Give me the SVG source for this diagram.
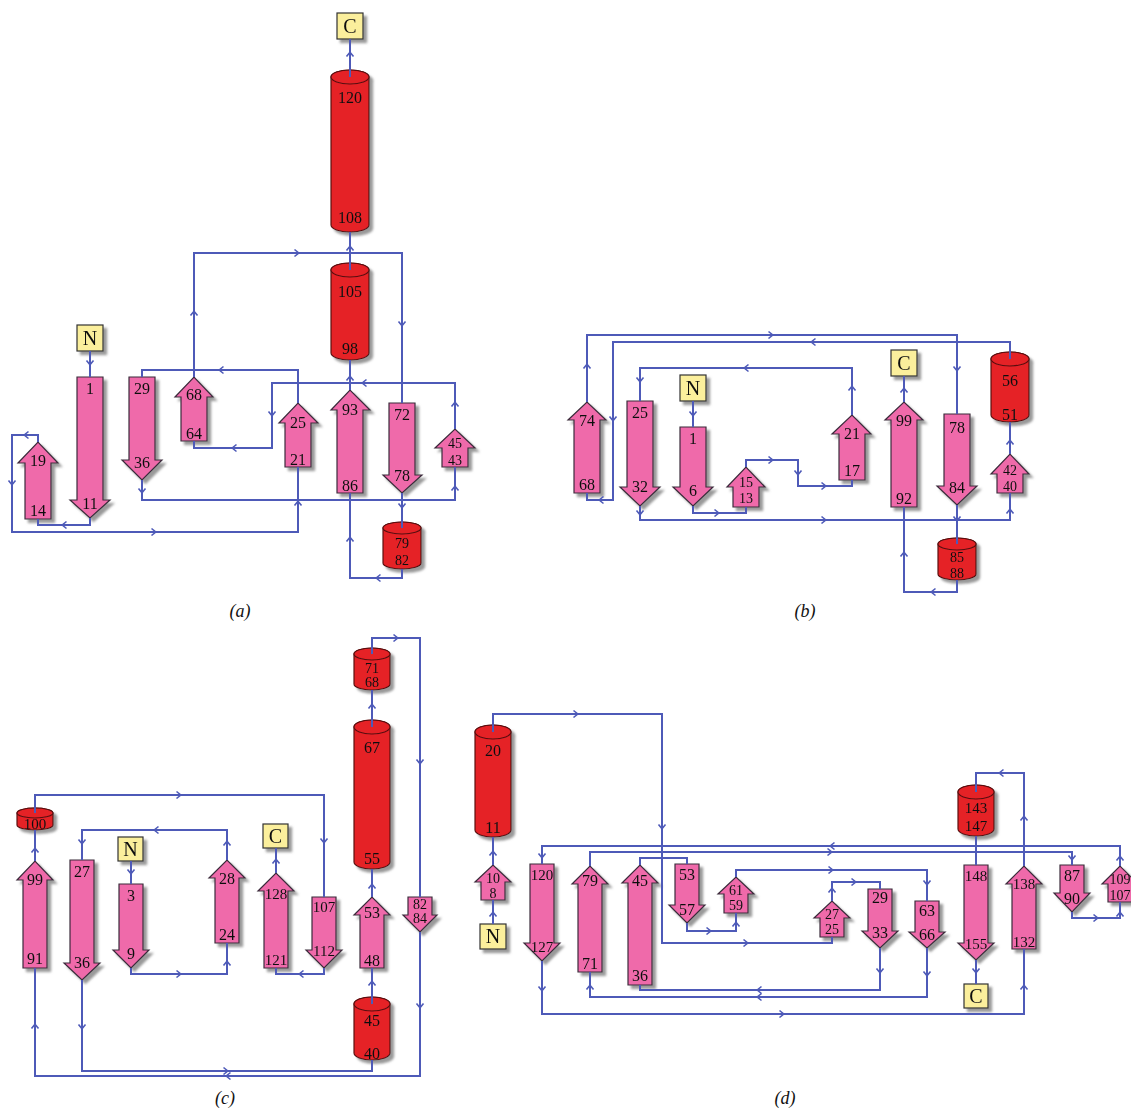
<svg xmlns="http://www.w3.org/2000/svg" width="1131" height="1109" viewBox="0 0 1131 1109">
<defs>
<filter id="sh" x="-20%" y="-20%" width="150%" height="150%"><feDropShadow dx="3.5" dy="3.5" stdDeviation="1.2" flood-color="#777" flood-opacity="0.75"/></filter>
<path id="ah" d="M-3.5,-3.5 L0.8,0 L-3.5,3.5" fill="none" stroke="#4E5AB8" stroke-width="1.6"/>
<style>
.st{fill:#EF6AAA;stroke:#3b2b3b;stroke-width:1.2}
.cy path,.cy ellipse{fill:#E52128;stroke:#5a1010;stroke-width:1.2}
.bx{fill:#FBEF9C;stroke:#333;stroke-width:1.2}
.sh{filter:url(#sh)}
.ln{fill:none;stroke:#4E5AB8;stroke-width:2}
text{font-family:"Liberation Serif","Times New Roman",serif;font-size:16px;text-anchor:middle;fill:#111}
.s{font-size:15px}
.x{font-size:14px}
.b{font-size:20px}
.cap{font-style:italic;font-size:18px}
</style>
</defs>
<rect width="1131" height="1109" fill="#fff"/>

<!-- ================= PANEL A ================= -->
<g id="a-N" class="sh"><rect class="bx" x="77" y="325" width="26" height="26"/><text class="b" x="90" y="345">N</text></g>
<g id="a-C" class="sh"><rect class="bx" x="337" y="13" width="26" height="26"/><text class="b" x="350" y="33">C</text></g>
<g id="a-s1" class="sh"><polygon class="st" points="77,377 103,377 103,500 110,500 90,518 70,500 77,500"/><text x="90" y="394">1</text><text x="90" y="509">11</text></g>
<g id="a-s19" class="sh"><polygon class="st" points="25,519 25,463 18,463 38,442 58,463 51,463 51,519"/><text x="38" y="466">19</text><text x="38" y="516">14</text></g>
<g id="a-s29" class="sh"><polygon class="st" points="129,377 155,377 155,460 162,460 142,480 122,460 129,460"/><text x="142" y="394">29</text><text x="142" y="468">36</text></g>
<g id="a-s68" class="sh"><polygon class="st" points="181,441 181,397 175,397 194,377 213,397 207,397 207,441"/><text x="194" y="400">68</text><text x="194" y="439">64</text></g>
<g id="a-s25" class="sh"><polygon class="st" points="285,467 285,423 279,423 298,403 318,423 311,423 311,467"/><text x="298" y="428">25</text><text x="298" y="465">21</text></g>
<g id="a-s93" class="sh"><polygon class="st" points="337,493 337,410 331,410 350,390 370,410 363,410 363,493"/><text x="350" y="415">93</text><text x="350" y="491">86</text></g>
<g id="a-s72" class="sh"><polygon class="st" points="389,403 415,403 415,475 422,475 402,493 383,475 389,475"/><text x="402" y="420">72</text><text x="402" y="481">78</text></g>
<g id="a-s45" class="sh"><polygon class="st" points="442,467 442,448 435,448 455,429 475,448 468,448 468,467"/><text class="x" x="455" y="448">45</text><text class="x" x="455" y="465">43</text></g>
<g id="a-h120" class="cy sh"><path d="M331,77 V225 A19,7 0 0 0 369,225 V77 A19,7 0 0 0 331,77 Z"/><ellipse cx="350" cy="77" rx="19" ry="7"/><text x="350" y="103">120</text><text x="350" y="223">108</text></g>
<g id="a-h105" class="cy sh"><path d="M331,270 V353 A19,7 0 0 0 369,353 V270 A19,7 0 0 0 331,270 Z"/><ellipse cx="350" cy="270" rx="19" ry="7"/><text x="350" y="297">105</text><text x="350" y="354">98</text></g>
<g id="a-h79" class="cy sh"><path d="M383,528 V563 A19,6 0 0 0 421,563 V528 A19,6 0 0 0 383,528 Z"/><ellipse cx="402" cy="528" rx="19" ry="6"/><text class="x" x="402" y="548">79</text><text class="x" x="402" y="565">82</text></g>
<text class="cap" x="240" y="617">(a)</text>

<!-- ================= PANEL B ================= -->
<g id="b-N" class="sh"><rect class="bx" x="680" y="375" width="26" height="26"/><text class="b" x="693" y="395">N</text></g>
<g id="b-C" class="sh"><rect class="bx" x="891" y="350" width="26" height="26"/><text class="b" x="904" y="370">C</text></g>
<g id="b-s74" class="sh"><polygon class="st" points="574,493 574,420 568,420 587,402 606,420 600,420 600,493"/><text x="587" y="426">74</text><text x="587" y="490">68</text></g>
<g id="b-s25" class="sh"><polygon class="st" points="627,401 653,401 653,487 660,487 640,506 620,487 627,487"/><text x="640" y="418">25</text><text x="640" y="492">32</text></g>
<g id="b-s1" class="sh"><polygon class="st" points="680,427 706,427 706,487 713,487 693,506 673,487 680,487"/><text x="693" y="444">1</text><text x="693" y="496">6</text></g>
<g id="b-s15" class="sh"><polygon class="st" points="733,507 733,487 727,487 746,467 765,487 759,487 759,507"/><text class="x" x="746" y="487">15</text><text class="x" x="746" y="503">13</text></g>
<g id="b-s21" class="sh"><polygon class="st" points="839,480 839,434 832,434 852,415 871,434 865,434 865,480"/><text x="852" y="439">21</text><text x="852" y="476">17</text></g>
<g id="b-s99" class="sh"><polygon class="st" points="891,507 891,420 885,420 904,402 923,420 917,420 917,507"/><text x="904" y="426">99</text><text x="904" y="504">92</text></g>
<g id="b-s78" class="sh"><polygon class="st" points="944,414 970,414 970,486 977,486 957,505 937,486 944,486"/><text x="957" y="433">78</text><text x="957" y="493">84</text></g>
<g id="b-s42" class="sh"><polygon class="st" points="997,493 997,474 991,474 1010,454 1029,474 1023,474 1023,493"/><text class="x" x="1010" y="475">42</text><text class="x" x="1010" y="491">40</text></g>
<g id="b-h56" class="cy sh"><path d="M991,359 V415 A19,7 0 0 0 1029,415 V359 A19,7 0 0 0 991,359 Z"/><ellipse cx="1010" cy="359" rx="19" ry="7"/><text x="1010" y="386">56</text><text x="1010" y="420">51</text></g>
<g id="b-h85" class="cy sh"><path d="M938,544 V574 A19,6 0 0 0 976,574 V544 A19,6 0 0 0 938,544 Z"/><ellipse cx="957" cy="544" rx="19" ry="6"/><text class="x" x="957" y="562">85</text><text class="x" x="957" y="578">88</text></g>
<text class="cap" x="805" y="617">(b)</text>

<!-- ================= PANEL C ================= -->
<g id="c-N" class="sh"><rect class="bx" x="118" y="837" width="25" height="24"/><text class="b" x="130.5" y="856">N</text></g>
<g id="c-C" class="sh"><rect class="bx" x="263" y="824" width="25" height="24"/><text class="b" x="275.5" y="843">C</text></g>
<g id="c-s99" class="sh"><polygon class="st" points="23,968 23,880 17,880 35,861 53,880 47,880 47,968"/><text x="35" y="885">99</text><text x="35" y="964">91</text></g>
<g id="c-s27" class="sh"><polygon class="st" points="70,860 94,860 94,963 100,963 82,980 64,963 70,963"/><text x="82" y="877">27</text><text x="82" y="968">36</text></g>
<g id="c-s3" class="sh"><polygon class="st" points="119,884 143,884 143,950 149,950 131,968 113,950 119,950"/><text x="131" y="901">3</text><text x="131" y="959">9</text></g>
<g id="c-s28" class="sh"><polygon class="st" points="215,943 215,878 209,878 227,860 245,878 239,878 239,943"/><text x="227" y="884">28</text><text x="227" y="940">24</text></g>
<g id="c-s128" class="sh"><polygon class="st" points="264,968 264,891 258,891 276,873 294,891 288,891 288,968"/><text class="s" x="276" y="899">128</text><text class="s" x="276" y="965">121</text></g>
<g id="c-s107" class="sh"><polygon class="st" points="312,897 336,897 336,950 342,950 324,968 306,950 312,950"/><text class="s" x="324" y="912">107</text><text class="s" x="324" y="956">112</text></g>
<g id="c-s53" class="sh"><polygon class="st" points="360,968 360,915 354,915 372,897 390,915 384,915 384,968"/><text x="372" y="918">53</text><text x="372" y="966">48</text></g>
<g id="c-s82" class="sh"><polygon class="st" points="408,897 432,897 432,915 437,915 420,932 403,915 408,915"/><text class="x" x="420" y="909">82</text><text class="x" x="420" y="923">84</text></g>
<g id="c-h100" class="cy sh"><path d="M17,813 V825 A18,5 0 0 0 53,825 V813 A18,5 0 0 0 17,813 Z"/><ellipse cx="35" cy="813" rx="18" ry="5"/><text class="s" x="35" y="829">100</text></g>
<g id="c-h71" class="cy sh"><path d="M354,654 V684 A18,6 0 0 0 390,684 V654 A18,6 0 0 0 354,654 Z"/><ellipse cx="372" cy="654" rx="18" ry="6"/><text class="x" x="372" y="673">71</text><text class="x" x="372" y="687">68</text></g>
<g id="c-h67" class="cy sh"><path d="M354,727 V862 A18,7 0 0 0 390,862 V727 A18,7 0 0 0 354,727 Z"/><ellipse cx="372" cy="727" rx="18" ry="7"/><text x="372" y="753">67</text><text x="372" y="864">55</text></g>
<g id="c-h45" class="cy sh"><path d="M354,1004 V1053 A18,7 0 0 0 390,1053 V1004 A18,7 0 0 0 354,1004 Z"/><ellipse cx="372" cy="1004" rx="18" ry="7"/><text x="372" y="1026">45</text><text x="372" y="1059">40</text></g>
<text class="cap" x="225" y="1104">(c)</text>

<!-- ================= PANEL D ================= -->
<g id="d-N" class="sh"><rect class="bx" x="480" y="924" width="26" height="25"/><text class="b" x="493" y="943">N</text></g>
<g id="d-C" class="sh"><rect class="bx" x="964" y="984" width="24" height="24"/><text class="b" x="976" y="1003">C</text></g>
<g id="d-s10" class="sh"><polygon class="st" points="481,900 481,882 475,882 493,865 511,882 505,882 505,900"/><text class="x" x="493" y="883">10</text><text class="x" x="493" y="898">8</text></g>
<g id="d-s120" class="sh"><polygon class="st" points="530,864 554,864 554,943 560,943 542,961 524,943 530,943"/><text class="s" x="542" y="880">120</text><text class="s" x="542" y="952">127</text></g>
<g id="d-s79" class="sh"><polygon class="st" points="578,972 578,884 572,884 590,866 608,884 602,884 602,972"/><text x="590" y="886">79</text><text x="590" y="969">71</text></g>
<g id="d-s45" class="sh"><polygon class="st" points="628,985 628,883 622,883 640,865 658,883 652,883 652,985"/><text x="640" y="886">45</text><text x="640" y="981">36</text></g>
<g id="d-s53" class="sh"><polygon class="st" points="675,864 699,864 699,905 705,905 687,923 669,905 675,905"/><text x="687" y="880">53</text><text x="687" y="915">57</text></g>
<g id="d-s61" class="sh"><polygon class="st" points="724,913 724,894 718,894 736,877 754,894 748,894 748,913"/><text class="x" x="736" y="895">61</text><text class="x" x="736" y="910">59</text></g>
<g id="d-s27" class="sh"><polygon class="st" points="820,937 820,918 814,918 832,901 850,918 844,918 844,937"/><text class="x" x="832" y="919">27</text><text class="x" x="832" y="934">25</text></g>
<g id="d-s29" class="sh"><polygon class="st" points="868,889 892,889 892,931 898,931 880,948 862,931 868,931"/><text x="880" y="903">29</text><text x="880" y="938">33</text></g>
<g id="d-s63" class="sh"><polygon class="st" points="915,901 939,901 939,932 945,932 927,948 909,932 915,932"/><text x="927" y="916">63</text><text x="927" y="940">66</text></g>
<g id="d-s148" class="sh"><polygon class="st" points="964,865 988,865 988,943 994,943 976,960 958,943 964,943"/><text class="s" x="976" y="881">148</text><text class="s" x="976" y="949">155</text></g>
<g id="d-s138" class="sh"><polygon class="st" points="1012,949 1012,884 1006,884 1024,866 1042,884 1036,884 1036,949"/><text class="s" x="1024" y="889">138</text><text class="s" x="1024" y="947">132</text></g>
<g id="d-s87" class="sh"><polygon class="st" points="1060,865 1084,865 1084,893 1090,893 1072,912 1054,893 1060,893"/><text x="1072" y="881">87</text><text x="1072" y="904">90</text></g>
<g id="d-s109" class="sh"><polygon class="st" points="1108,902 1108,884 1102,884 1120,866 1138,884 1132,884 1132,902"/><text class="x" x="1120" y="884">109</text><text class="x" x="1120" y="900">107</text></g>
<g id="d-h20" class="cy sh"><path d="M475,732 V830 A18,7 0 0 0 511,830 V732 A18,7 0 0 0 475,732 Z"/><ellipse cx="493" cy="732" rx="18" ry="7"/><text x="493" y="756">20</text><text x="493" y="833">11</text></g>
<g id="d-h143" class="cy sh"><path d="M958,792 V829 A18,7 0 0 0 994,829 V792 A18,7 0 0 0 958,792 Z"/><ellipse cx="976" cy="792" rx="18" ry="7"/><text class="s" x="976" y="813">143</text><text class="s" x="976" y="831">147</text></g>
<text class="cap" x="785" y="1104">(d)</text>

<!-- ================= CONNECTORS ================= -->
<g id="connectors">
<!-- panel a -->
<path class="ln" d="M90,351 V377"/>
<path class="ln" d="M90,518 V525 H38 V519"/>
<path class="ln" d="M38,442 V435 H12 V532 H298 V467"/>
<path class="ln" d="M298,403 V370 H142 V377"/>
<path class="ln" d="M142,480 V500 H455 V467"/>
<path class="ln" d="M455,429 V383 H272 V448 H194 V441"/>
<path class="ln" d="M194,377 V253 H402 V403"/>
<path class="ln" d="M402,493 V528"/>
<path class="ln" d="M402,569 V578 H350 V493"/>
<path class="ln" d="M350,390 V360"/>
<path class="ln" d="M350,270 V232"/>
<path class="ln" d="M350,77 V39"/>
<use href="#ah" transform="translate(90,364) rotate(90)"/>
<use href="#ah" transform="translate(63,525) rotate(180)"/>
<use href="#ah" transform="translate(25,435) rotate(180)"/>
<use href="#ah" transform="translate(12,484) rotate(90)"/>
<use href="#ah" transform="translate(155,532)"/>
<use href="#ah" transform="translate(298,502) rotate(-90)"/>
<use href="#ah" transform="translate(220,370) rotate(180)"/>
<use href="#ah" transform="translate(142,492) rotate(90)"/>
<use href="#ah" transform="translate(455,487) rotate(-90)"/>
<use href="#ah" transform="translate(455,403) rotate(-90)"/>
<use href="#ah" transform="translate(363,383) rotate(180)"/>
<use href="#ah" transform="translate(272,415) rotate(90)"/>
<use href="#ah" transform="translate(233,448) rotate(180)"/>
<use href="#ah" transform="translate(194,312) rotate(-90)"/>
<use href="#ah" transform="translate(298,253)"/>
<use href="#ah" transform="translate(402,325) rotate(90)"/>
<use href="#ah" transform="translate(402,507) rotate(90)"/>
<use href="#ah" transform="translate(377,578) rotate(180)"/>
<use href="#ah" transform="translate(350,538) rotate(-90)"/>
<use href="#ah" transform="translate(350,377) rotate(-90)"/>
<use href="#ah" transform="translate(350,247) rotate(-90)"/>
<use href="#ah" transform="translate(350,53) rotate(-90)"/>
<!-- panel b -->
<path class="ln" d="M693,401 V427"/>
<path class="ln" d="M693,506 V513 H746 V507"/>
<path class="ln" d="M746,467 V460 H798 V486 H852 V480"/>
<path class="ln" d="M852,415 V368 H640 V401"/>
<path class="ln" d="M640,506 V520 H1010 V493"/>
<path class="ln" d="M1010,454 V422"/>
<path class="ln" d="M1010,359 V342 H613 V500 H587 V493"/>
<path class="ln" d="M587,402 V335 H957 V414"/>
<path class="ln" d="M957,505 V544"/>
<path class="ln" d="M957,580 V592 H904 V507"/>
<path class="ln" d="M904,402 V376"/>
<use href="#ah" transform="translate(693,415) rotate(90)"/>
<use href="#ah" transform="translate(718,513)"/>
<use href="#ah" transform="translate(772,460)"/>
<use href="#ah" transform="translate(798,474) rotate(90)"/>
<use href="#ah" transform="translate(825,486)"/>
<use href="#ah" transform="translate(852,387) rotate(-90)"/>
<use href="#ah" transform="translate(745,368) rotate(180)"/>
<use href="#ah" transform="translate(640,381) rotate(90)"/>
<use href="#ah" transform="translate(640,514) rotate(90)"/>
<use href="#ah" transform="translate(825,520)"/>
<use href="#ah" transform="translate(1010,510) rotate(-90)"/>
<use href="#ah" transform="translate(1010,441) rotate(-90)"/>
<use href="#ah" transform="translate(812,342) rotate(180)"/>
<use href="#ah" transform="translate(613,420) rotate(90)"/>
<use href="#ah" transform="translate(600,500) rotate(180)"/>
<use href="#ah" transform="translate(587,365) rotate(-90)"/>
<use href="#ah" transform="translate(772,335)"/>
<use href="#ah" transform="translate(957,370) rotate(90)"/>
<use href="#ah" transform="translate(957,520) rotate(90)"/>
<use href="#ah" transform="translate(932,592) rotate(180)"/>
<use href="#ah" transform="translate(904,553) rotate(-90)"/>
<use href="#ah" transform="translate(904,389) rotate(-90)"/>
<!-- panel c -->
<path class="ln" d="M131,861 V884"/>
<path class="ln" d="M131,968 V974 H227 V943"/>
<path class="ln" d="M227,860 V830 H82 V860"/>
<path class="ln" d="M82,980 V1071 H372 V1060"/>
<path class="ln" d="M372,1004 V968"/>
<path class="ln" d="M372,897 V869"/>
<path class="ln" d="M372,727 V690"/>
<path class="ln" d="M372,654 V638 H420 V897"/>
<path class="ln" d="M420,932 V1076 H35 V968"/>
<path class="ln" d="M35,861 V830"/>
<path class="ln" d="M35,813 V795 H324 V897"/>
<path class="ln" d="M324,968 V974 H276 V968"/>
<path class="ln" d="M276,873 V848"/>
<use href="#ah" transform="translate(131,873) rotate(90)"/>
<use href="#ah" transform="translate(180,974)"/>
<use href="#ah" transform="translate(227,962) rotate(-90)"/>
<use href="#ah" transform="translate(227,842) rotate(-90)"/>
<use href="#ah" transform="translate(155,830) rotate(180)"/>
<use href="#ah" transform="translate(82,843) rotate(90)"/>
<use href="#ah" transform="translate(82,1028) rotate(90)"/>
<use href="#ah" transform="translate(227,1071)"/>
<use href="#ah" transform="translate(372,982) rotate(-90)"/>
<use href="#ah" transform="translate(372,885) rotate(-90)"/>
<use href="#ah" transform="translate(372,705) rotate(-90)"/>
<use href="#ah" transform="translate(397,638)"/>
<use href="#ah" transform="translate(420,763) rotate(90)"/>
<use href="#ah" transform="translate(420,1007) rotate(90)"/>
<use href="#ah" transform="translate(227,1076) rotate(180)"/>
<use href="#ah" transform="translate(35,1025) rotate(-90)"/>
<use href="#ah" transform="translate(35,849) rotate(-90)"/>
<use href="#ah" transform="translate(180,795)"/>
<use href="#ah" transform="translate(324,842) rotate(90)"/>
<use href="#ah" transform="translate(300,974) rotate(180)"/>
<use href="#ah" transform="translate(276,860) rotate(-90)"/>
<!-- panel d -->
<path class="ln" d="M493,924 V900"/>
<path class="ln" d="M493,865 V837"/>
<path class="ln" d="M493,732 V714 H662 V943 H832 V937"/>
<path class="ln" d="M832,901 V882 H880 V889"/>
<path class="ln" d="M880,948 V990 H640 V985"/>
<path class="ln" d="M640,865 V858 H687 V864"/>
<path class="ln" d="M687,923 V931 H736 V913"/>
<path class="ln" d="M736,877 V870 H927 V901"/>
<path class="ln" d="M927,948 V997 H590 V972"/>
<path class="ln" d="M590,866 V852 H1072 V865"/>
<path class="ln" d="M1072,912 V918 H1120 V902"/>
<path class="ln" d="M1120,866 V846 H542 V864"/>
<path class="ln" d="M542,961 V1014 H1024 V949"/>
<path class="ln" d="M1024,866 V773 H976 V792"/>
<path class="ln" d="M976,836 V865"/>
<path class="ln" d="M976,960 V984"/>
<use href="#ah" transform="translate(493,913) rotate(-90)"/>
<use href="#ah" transform="translate(493,852) rotate(-90)"/>
<use href="#ah" transform="translate(577,714)"/>
<use href="#ah" transform="translate(662,828) rotate(90)"/>
<use href="#ah" transform="translate(747,943)"/>
<use href="#ah" transform="translate(832,889) rotate(-90)"/>
<use href="#ah" transform="translate(855,882)"/>
<use href="#ah" transform="translate(880,972) rotate(90)"/>
<use href="#ah" transform="translate(758,990) rotate(180)"/>
<use href="#ah" transform="translate(710,931)"/>
<use href="#ah" transform="translate(736,923) rotate(-90)"/>
<use href="#ah" transform="translate(832,870)"/>
<use href="#ah" transform="translate(927,884) rotate(90)"/>
<use href="#ah" transform="translate(927,975) rotate(90)"/>
<use href="#ah" transform="translate(758,997) rotate(180)"/>
<use href="#ah" transform="translate(590,986) rotate(-90)"/>
<use href="#ah" transform="translate(831,852)"/>
<use href="#ah" transform="translate(1072,859) rotate(90)"/>
<use href="#ah" transform="translate(1097,918)"/>
<use href="#ah" transform="translate(1120,913) rotate(-90)"/>
<use href="#ah" transform="translate(1120,857) rotate(-90)"/>
<use href="#ah" transform="translate(831,846) rotate(180)"/>
<use href="#ah" transform="translate(542,857) rotate(90)"/>
<use href="#ah" transform="translate(542,990) rotate(90)"/>
<use href="#ah" transform="translate(783,1014)"/>
<use href="#ah" transform="translate(1024,986) rotate(-90)"/>
<use href="#ah" transform="translate(1024,817) rotate(-90)"/>
<use href="#ah" transform="translate(1000,773) rotate(180)"/>
<use href="#ah" transform="translate(976,972) rotate(90)"/>
</g>
</svg>
